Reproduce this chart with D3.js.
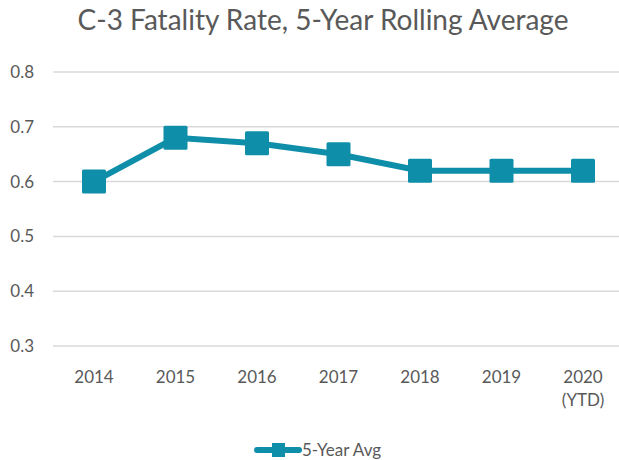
<!DOCTYPE html>
<html>
<head>
<meta charset="utf-8">
<script src="https://cdn.jsdelivr.net/npm/d3@7"></script>
<style>
  body { margin: 0; background: #fff; }
  text { font-family: "Lato", "Open Sans", sans-serif; fill: #595959; }
</style>
</head>
<body>
<div id="chart"></div>
<script>
var years = ["2014", "2015", "2016", "2017", "2018", "2019", "2020"];
var yearNotes = ["", "", "", "", "", "", "(YTD)"];
var avgValues = [0.60, 0.68, 0.67, 0.65, 0.62, 0.62, 0.62];
var yTicks = [0.3, 0.4, 0.5, 0.6, 0.7, 0.8];

var teal = "#0f8ea9";
var width = 619, height = 460;

var svg = d3.select("#chart").append("svg")
  .attr("width", width)
  .attr("height", height);

var x = d3.scalePoint()
  .domain(years)
  .range([94, 583]);

var y = d3.scaleLinear()
  .domain([0.3, 0.8])
  .range([346, 72]);

// title
svg.append("text")
  .attr("x", 323)
  .attr("y", 30)
  .attr("text-anchor", "middle")
  .style("font-size", "28px")
  .text("C-3 Fatality Rate, 5-Year Rolling Average");

// gridlines
svg.append("g")
  .selectAll("line")
  .data(yTicks)
  .join("line")
  .attr("x1", 53)
  .attr("x2", width)
  .attr("y1", function(d) { return y(d); })
  .attr("y2", function(d) { return y(d); })
  .attr("stroke", "#d9d9d9")
  .attr("stroke-width", 1.5);

// y labels
svg.append("g")
  .selectAll("text")
  .data(yTicks)
  .join("text")
  .attr("x", 34)
  .attr("y", function(d) { return y(d); })
  .attr("dy", "0.35em")
  .attr("text-anchor", "end")
  .style("font-size", "17px")
  .text(function(d) { return d3.format(".1f")(d); });

// x labels
var xl = svg.append("g")
  .selectAll("text")
  .data(years)
  .join("text")
  .attr("x", function(d) { return x(d); })
  .attr("y", 383)
  .attr("text-anchor", "middle")
  .style("font-size", "17px");
xl.append("tspan").text(function(d) { return d; });
xl.append("tspan")
  .attr("x", function(d) { return x(d); })
  .attr("dy", 23)
  .text(function(d, i) { return yearNotes[i]; });

// line
var line = d3.line()
  .x(function(d, i) { return x(years[i]); })
  .y(function(d) { return y(d); });

svg.append("path")
  .datum(avgValues)
  .attr("d", line)
  .attr("fill", "none")
  .attr("stroke", teal)
  .attr("stroke-width", 6);

var ms = 24;
svg.append("g")
  .selectAll("rect")
  .data(avgValues)
  .join("rect")
  .attr("x", function(d, i) { return x(years[i]) - ms / 2; })
  .attr("y", function(d) { return y(d) - ms / 2; })
  .attr("width", ms)
  .attr("height", ms)
  .attr("rx", 1.5)
  .attr("fill", teal);

// legend
var lg = svg.append("g");
lg.append("line")
  .attr("x1", 257).attr("x2", 299)
  .attr("y1", 450).attr("y2", 450)
  .attr("stroke", teal)
  .attr("stroke-width", 6)
  .attr("stroke-linecap", "round");
lg.append("rect")
  .attr("x", 272).attr("y", 443)
  .attr("width", 13).attr("height", 14)
  .attr("fill", teal);
lg.append("text")
  .attr("x", 302)
  .attr("y", 450)
  .attr("dy", "0.35em")
  .style("font-size", "17px")
  .text("5-Year Avg");
</script>
</body>
</html>
